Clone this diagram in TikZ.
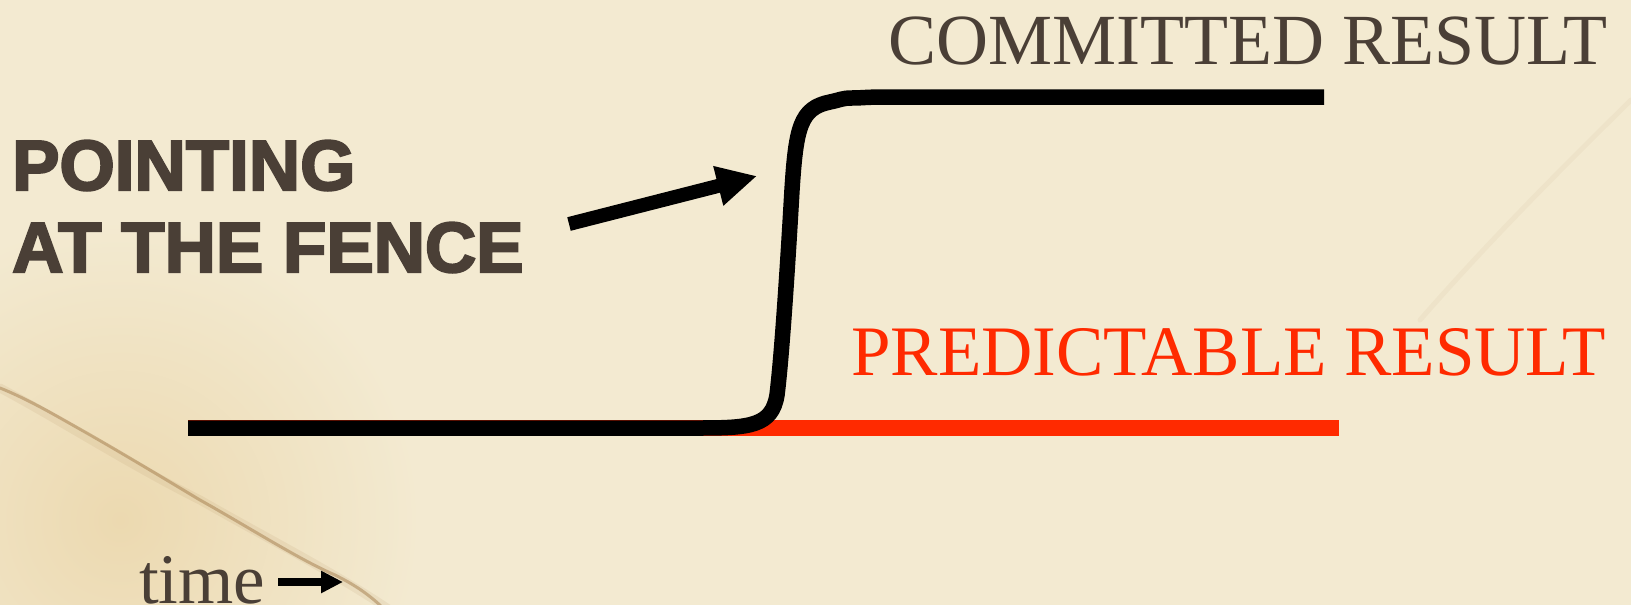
\documentclass[tikz,border=0pt]{standalone}
\usepackage{fontspec}
\setmainfont{Liberation Serif}
\newfontfamily\boldsans{Liberation Sans}[BoldFeatures={FakeBold=3}]
\usetikzlibrary{arrows.meta}
\definecolor{paper}{HTML}{F3EAD1}
\definecolor{warmpaper}{HTML}{ECD9B0}
\definecolor{stain}{HTML}{A47D4C}
\definecolor{ink}{HTML}{4A3F36}
\definecolor{predred}{HTML}{FF2A00}
\tikzset{
  seriflabel/.style={inner sep=0pt, anchor=base west, text=ink, font=\fontsize{72}{80}\selectfont},
  headline/.style={inner sep=0pt, anchor=base west, text=ink, font=\boldsans\bfseries\fontsize{71}{80}\selectfont},
  fenceline/.style={line width=15.5pt, line cap=butt, line join=round, black},
  predline/.style={line width=15.5pt, line cap=butt, predred},
  pointer/.style={line width=14pt, black, -{Triangle[length=40pt, width=38pt]}},
  timearrow/.style={line width=8.5pt, black, -{Triangle[length=22pt, width=21pt]}},
  stainline/.style={stain, line cap=round, line join=round}
}
\begin{document}
\begin{tikzpicture}[x=1pt,y=-1pt]
\useasboundingbox (0,0) rectangle (1631,605);
\fill[paper] (0,0) rectangle (1631,605);
% warm stained area lower left
\begin{scope}
\clip (0,0) rectangle (1631,605);
\shade[inner color=warmpaper, outer color=paper] (120,520) circle (300);
% stain streak
\draw[stainline, line width=9pt, opacity=0.10] (0,388) .. controls (60,420) and (130,465) .. (200,500) .. controls (270,540) and (330,570) .. (390,610);
\draw[stainline, line width=3pt, opacity=0.5] (0,388) .. controls (30,400) and (60,418) .. (85,432) .. controls (120,452) and (150,470) .. (200,500) .. controls (250,528) and (300,560) .. (335,575) .. controls (355,585) and (370,595) .. (385,610);
% faint stain upper right
\draw[stainline, line width=5pt, opacity=0.06] (1631,100) .. controls (1560,170) and (1490,240) .. (1420,320);
\end{scope}

% texts
\node[headline] (pointing) at (12,190) {POINTING};
\node[headline] (fence) at (12,272) {AT THE FENCE};
\node[seriflabel] (committed) at (888,64) {COMMITTED RESULT};
\node[seriflabel, text=predred, font=\fontsize{71}{80}\selectfont] (predictable) at (851,375) {PREDICTABLE RESULT};
\node[seriflabel, font=\fontsize{71}{80}\selectfont] (time) at (139,603) {time};

% red predictable line
\coordinate (r-start) at (188,428);
\coordinate (r-end) at (1339,428);
\draw[predline] (r-start) -- (r-end);

% black committed curve
\coordinate (c-start) at (188,428);
\coordinate (c-end) at (1324,97);
\draw[fenceline] (c-start) -- (700,428)
  .. controls (750,428) and (772,426) .. (777,395)
  .. controls (782,355) and (788,260) .. (792,190)
  .. controls (796,128) and (800,108) .. (830,102)
  .. controls (840,100) and (842,98) .. (852,98)
  .. controls (862,98) and (866,97) .. (886,97)
  -- (c-end);

% pointer arrow
\coordinate (p-tail) at (569,224);
\coordinate (p-tip) at (757,176);
\draw[pointer] (p-tail) -- (p-tip);

% time arrow
\coordinate (t-tail) at (278,582);
\coordinate (t-tip) at (343,582);
\draw[timearrow] (t-tail) -- (t-tip);
\end{tikzpicture}
\end{document}
